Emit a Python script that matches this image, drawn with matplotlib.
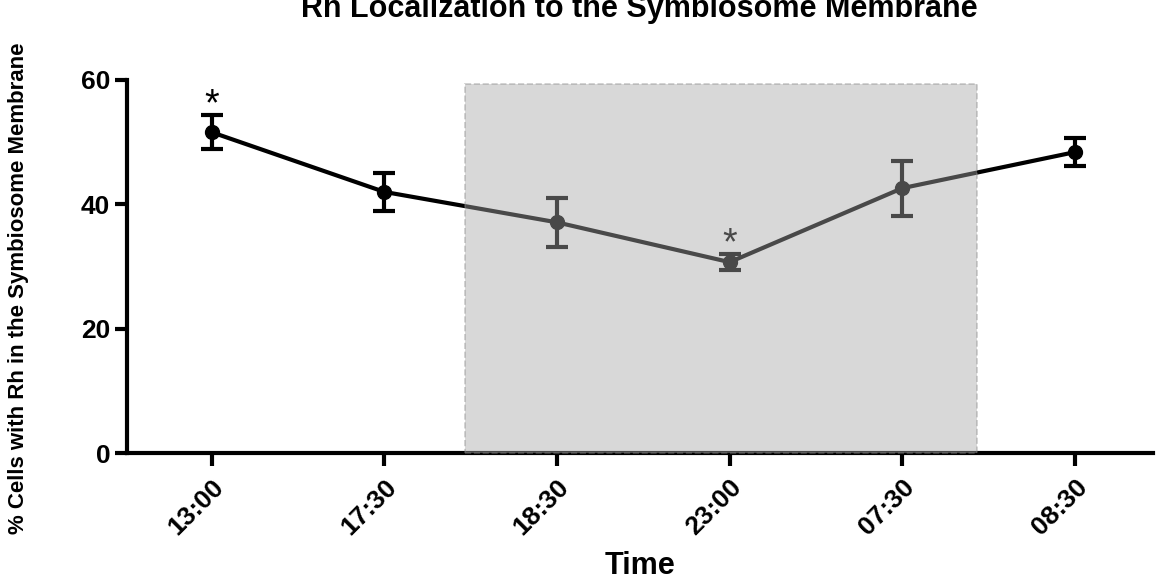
import matplotlib
matplotlib.use('Agg')
import matplotlib.pyplot as plt
import matplotlib.patches as mpatches

plt.rcParams['font.family'] = ['Liberation Sans', 'DejaVu Sans']
plt.rcParams['font.weight'] = 'bold'

# data
times = ['13:00', '17:30', '18:30', '23:00', '07:30', '08:30']
mean_pct = [51.6, 42.0, 37.1, 30.7, 42.6, 48.4]
sem_pct = [2.7, 3.0, 3.9, 1.3, 4.4, 2.2]
significant = [True, False, False, True, False, False]
dark_start, dark_end = 1.47, 4.43   # shaded (dark) period, in category units

fig = plt.figure(figsize=(11.67, 5.82), dpi=100)
ax = fig.add_axes([0.1088, 0.2216, 0.879, 0.641])

xs = list(range(len(times)))
ax.errorbar(xs, mean_pct, yerr=sem_pct, color='black', lw=3, marker='o',
            markersize=10, capsize=8, capthick=3, elinewidth=3, zorder=3)

for x, m, s, sig in zip(xs, mean_pct, sem_pct, significant):
    if sig:
        ax.annotate('*', xy=(x, m + s), xytext=(0, -6), textcoords='offset points',
                    ha='center', va='bottom', fontsize=27, fontweight='normal',
                    color='black', zorder=3)

# translucent grey box over the night points
rect = mpatches.Rectangle((dark_start, 0), dark_end - dark_start, 59.3,
                          facecolor=(0.66, 0.66, 0.66), alpha=0.44,
                          edgecolor='#888888', linestyle='--', lw=1.2,
                          zorder=4, clip_on=False)
ax.add_patch(rect)

ax.set_xlim(-0.49, 5.45)
ax.set_ylim(0, 60)
ax.set_yticks([0, 20, 40, 60])
ax.set_xticks(xs)
ax.set_xticklabels(times, rotation=45, ha='right', rotation_mode='anchor')

for side in ('top', 'right'):
    ax.spines[side].set_visible(False)
for side in ('left', 'bottom'):
    ax.spines[side].set_linewidth(3)
ax.tick_params(axis='both', width=3, length=9, labelsize=19, pad=3)
ax.tick_params(axis='x', pad=7)

ax.set_xlabel('Time', fontsize=22, fontweight='bold', labelpad=8)
fig.text(0.016, 0.505, '% Cells with Rh in the Symbiosome Membrane', rotation=90,
         ha='center', va='center', fontsize=16, fontweight='bold')
fig.text(0.548, 0.984, 'Rh Localization to the Symbiosome Membrane',
         ha='center', va='center', fontsize=22, fontweight='bold')

fig.savefig('out.png', dpi=100)
